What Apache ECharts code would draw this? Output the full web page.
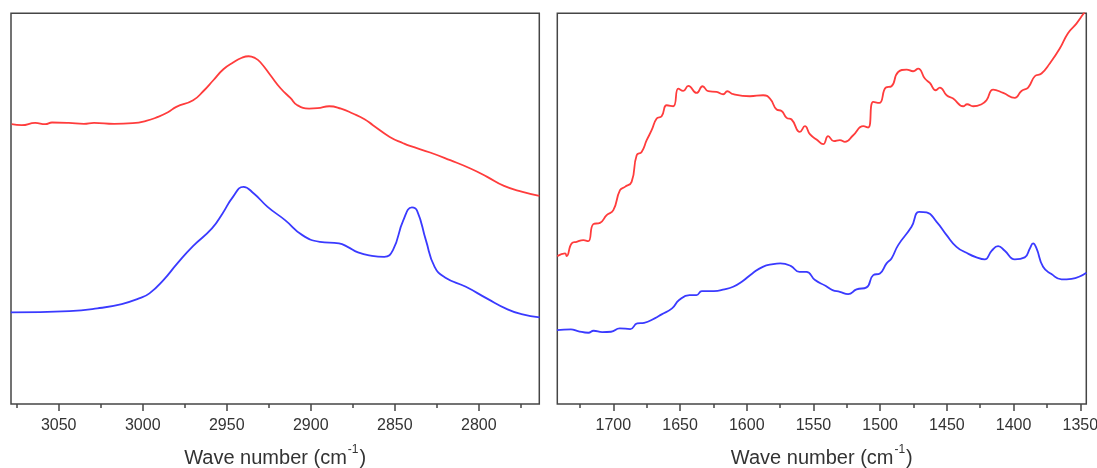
<!DOCTYPE html>
<html>
<head>
<meta charset="utf-8">
<script src="https://cdn.jsdelivr.net/npm/echarts@6/dist/echarts.min.js"></script>
<style>
  html, body { margin: 0; padding: 0; background: #fff; }
  #chart { width: 1097px; height: 468px; }
</style>
</head>
<body>
<div id="chart"></div>
<script>
// wavenumber (cm-1), intensity (a.u.)
const highRed = [
  [3078, 280], [3072, 279], [3064, 281.3], [3058, 280], [3054, 281.7], [3044, 281.3],
  [3035, 280.3], [3029, 281.3], [3017, 280.3], [3006, 281], [2998, 283.3], [2991, 287.3],
  [2985, 292], [2980, 297.3], [2970, 304], [2964, 313], [2958, 324], [2952, 335],
  [2946, 342], [2941, 346.5], [2937, 348], [2933, 346], [2930, 342], [2924, 329],
  [2918, 316], [2912, 306], [2908, 299], [2901, 295.7], [2896, 296], [2889, 298],
  [2882, 295.5], [2875, 290.7], [2868, 285], [2863, 279], [2853, 267.3], [2845, 261],
  [2841, 258.3], [2829, 251.7], [2817, 244], [2805, 235.7], [2795, 227.3], [2785, 218.3],
  [2774, 212.3], [2764, 208.3]
];
const highBlue = [
  [3078.5, 91.7], [3043.6, 93], [3027, 95.7], [3012.5, 100], [3002.2, 105.7], [2996, 110.7],
  [2987.7, 124], [2979.4, 140.7], [2970.1, 158], [2958.8, 175.7], [2952.5, 190.7],
  [2946.3, 207.3], [2940.1, 217.3], [2933.9, 210.7], [2925.7, 197.3], [2915.3, 184],
  [2905, 169], [2894.6, 162.3], [2883.2, 160.7], [2878.1, 157.3], [2871.9, 151.7],
  [2863.6, 148.3], [2856.3, 147.3], [2851.1, 154], [2844.9, 184], [2839.8, 196.7],
  [2836.7, 193.3], [2831.5, 164], [2826.3, 137.3], [2820.1, 126.7], [2807.7, 117.3],
  [2795.3, 105.7], [2782.9, 94.7], [2774.6, 90], [2763.8, 86.7]
];
const lowRed = [
  [1742, 148], [1736.2, 150.7], [1735, 148], [1731.2, 160.7], [1727.5, 162.3], [1722.5, 164],
  [1718.8, 163], [1715, 180], [1710, 181.3], [1705, 189], [1700, 194], [1695, 214],
  [1691.3, 217.3], [1686.3, 222.3], [1682.5, 249], [1678.8, 252.3], [1675, 264], [1671.3, 274],
  [1667.5, 285.7], [1663.8, 288], [1660, 299], [1655.1, 298], [1651.3, 315.7], [1647.6, 313.3],
  [1643.8, 318.3], [1637.6, 311.3], [1633.1, 318], [1628.9, 313], [1622.6, 312.3], [1617.6, 310],
  [1614.6, 313], [1610.1, 310], [1597.6, 308], [1587.7, 309], [1582.6, 305.7], [1577.6, 294.7],
  [1573.9, 293.3], [1570.1, 286.3], [1566.4, 284.7], [1560.2, 272.3], [1556.4, 278], [1552.7, 270],
  [1547.7, 264.7], [1542.7, 260], [1539, 268], [1534.7, 263], [1530.2, 264], [1526.4, 262.3],
  [1520.2, 269], [1512.7, 278], [1509, 276.7], [1505.2, 302.3], [1500.7, 301.3], [1495.7, 316.7],
  [1491.5, 318], [1486.5, 332.3], [1480.2, 334.7], [1475.3, 333], [1471.5, 335.7], [1466.5, 325.7],
  [1462.8, 321.3], [1458.3, 314], [1455.3, 316.7], [1450.2, 309], [1445.3, 305.7], [1437.8, 298],
  [1434.8, 300], [1430.3, 298], [1424, 300], [1420.3, 304], [1415.3, 314.7], [1407.8, 311.3],
  [1399.1, 306.3], [1394.1, 313.3], [1389.1, 316.7], [1384.1, 328], [1379.1, 330.7],
  [1372.9, 340.7], [1365.4, 355.7], [1359.1, 371.3], [1352.9, 380.7], [1347.9, 390], [1345.5, 394.5]
];
const lowBlue = [
  [1742.2, 74], [1731.8, 74.7], [1726.6, 73], [1718.7, 71.3], [1714.8, 73.3], [1708.3, 72],
  [1701.7, 72.3], [1695.2, 75.7], [1687.3, 75], [1682.1, 80.7], [1676.9, 81.3], [1669, 85.7],
  [1663.8, 89.7], [1656, 95.7], [1650.7, 104], [1642.9, 109], [1637.7, 109], [1633.7, 113],
  [1624.6, 113], [1616.7, 114.7], [1610.2, 117.3], [1603.7, 122.3], [1595.8, 130.7], [1588, 137.3],
  [1580.2, 140], [1574.9, 140.7], [1567.1, 138.3], [1560.5, 132.3], [1555.3, 132.3], [1548.8, 124],
  [1541, 118.3], [1535.7, 114], [1530.2, 112.3], [1524, 110], [1517.7, 114.7], [1510.2, 116.7],
  [1505.2, 129], [1500.2, 130.7], [1495.2, 140.7], [1491.5, 145.7], [1486.5, 159], [1476.5, 177.3],
  [1470.8, 192.3], [1465.2, 191.7], [1457.7, 182.3], [1450.2, 169], [1442.8, 157.3], [1435.3, 151.3],
  [1427.8, 146.7], [1421.6, 144.7], [1416.5, 153.3], [1411.6, 158], [1406.6, 153.3], [1399.1, 144.7],
  [1391.6, 146.7], [1387.8, 155.7], [1385.4, 160.7], [1382.8, 155.7], [1377.9, 137.3], [1371.6, 130],
  [1364.1, 124.7], [1356.6, 125.3], [1345.4, 131.3]
];

const highTicks = [3050, 3000, 2950, 2900, 2850, 2800];
const highMinor = [3075, 3025, 2975, 2925, 2875, 2825, 2775];
const lowTicks = [1700, 1650, 1600, 1550, 1500, 1450, 1400, 1350];
const lowMinor = [1725, 1675, 1625, 1575, 1525, 1475, 1425, 1375];

const frame = '#454545';
const font = 'Liberation Sans, Arial, sans-serif';

function majorAxis(grid, min, max, ticks) {
  return {
    type: 'value', gridIndex: grid, position: 'bottom', min: min, max: max, inverse: true,
    axisLine: { show: false },
    splitLine: { show: false },
    axisTick: { show: true, length: 7, customValues: ticks, lineStyle: { color: frame, width: 1.5 } },
    axisLabel: {
      customValues: ticks, margin: 14, fontSize: 16, color: '#333', fontFamily: font,
      formatter: function (v) { return String(v); }
    },
    name: '{a|Wave number (cm}{s|-1}{a|)}',
    nameLocation: 'middle',
    nameGap: 40,
    nameTextStyle: {
      rich: {
        a: { fontSize: 20, color: '#333', fontFamily: font, lineHeight: 24, verticalAlign: 'bottom' },
        s: { fontSize: 12, color: '#333', fontFamily: font, lineHeight: 24, verticalAlign: 'top', padding: [0, 1, 0, 1] }
      }
    }
  };
}
function minorAxis(grid, min, max, ticks) {
  return {
    type: 'value', gridIndex: grid, position: 'bottom', min: min, max: max, inverse: true,
    axisLine: { show: false },
    splitLine: { show: false },
    axisTick: { show: true, length: 4, customValues: ticks, lineStyle: { color: frame, width: 1.5 } },
    axisLabel: { show: false }
  };
}
function curve(xi, yi, data, color) {
  return {
    type: 'line', xAxisIndex: xi, yAxisIndex: yi, data: data,
    showSymbol: false, smooth: 0.5, clip: true,
    lineStyle: { color: color, width: 1.8 }
  };
}

const chart = echarts.init(document.getElementById('chart'));
chart.setOption({
  animation: false,
  backgroundColor: '#fff',
  grid: [
    { left: 11, top: 13.3, width: 528.3, bottom: 64, show: true, borderColor: frame, borderWidth: 1.5, outerBoundsMode: 'none' },
    { left: 557.3, top: 13.3, width: 529, bottom: 64, show: true, borderColor: frame, borderWidth: 1.5, outerBoundsMode: 'none' }
  ],
  xAxis: [
    majorAxis(0, 2764, 3078.4, highTicks),
    minorAxis(0, 2764, 3078.4, highMinor),
    majorAxis(1, 1345.5, 1742, lowTicks),
    minorAxis(1, 1345.5, 1742, lowMinor)
  ],
  yAxis: [
    { type: 'value', gridIndex: 0, min: 0, max: 391, show: false },
    { type: 'value', gridIndex: 1, min: 0, max: 391, show: false }
  ],
  series: [
    curve(0, 0, highRed, '#ff3c3c'),
    curve(0, 0, highBlue, '#3a3aff'),
    curve(2, 1, lowRed, '#ff3c3c'),
    curve(2, 1, lowBlue, '#3a3aff')
  ]
});
</script>
</body>
</html>
